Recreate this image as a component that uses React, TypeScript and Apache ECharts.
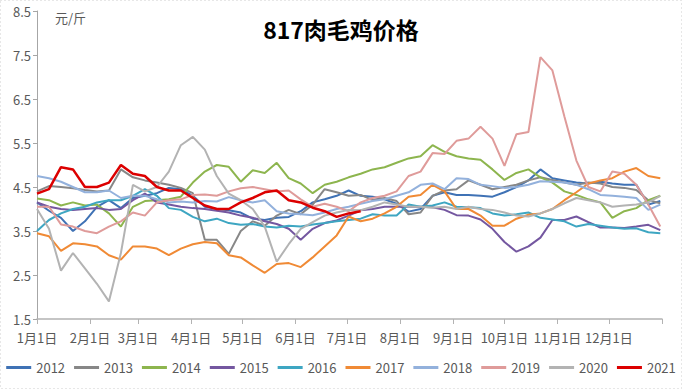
import React, { useEffect, useRef } from "react";
import * as echarts from "echarts";

// weekly sampling days (day of year)
const days = [0, 7, 14, 21, 28, 35, 42, 49, 56, 63, 70, 77, 84, 91, 98, 105, 112, 119, 126, 133, 140, 147, 154, 161, 168, 175, 182, 189, 196, 203, 210, 217, 224, 231, 238, 245, 252, 259, 266, 273, 280, 287, 294, 301, 308, 315, 322, 329, 336, 343, 350, 357, 364];

const monthTicks = [0, 31, 59, 90, 120, 151, 181, 212, 243, 273, 304, 334, 365];
const monthLabels = ["1月1日", "2月1日", "3月1日", "4月1日", "5月1日", "6月1日", "7月1日", "8月1日", "9月1日", "10月1日", "11月1日", "12月1日"];
const yTicks = [1.5, 2.5, 3.5, 4.5, 5.5, 6.5, 7.5, 8.5];

const years = ["2012", "2013", "2014", "2015", "2016", "2017", "2018", "2019", "2020", "2021"];
const colors = ["#3f72b5", "#878787", "#8db54e", "#7457a0", "#3ea6c2", "#f08a35", "#93b1dc", "#df9b9a", "#b3b3b3", "#dc0000"];

const s2012 = [4.15, 3.96, 3.8, 3.5, 3.72, 4.05, 4.2, 4.02, 4.25, 4.3, 4.36, 4.48, 4.45, 4.3, 4.05, 4.0, 3.97, 3.92, 3.78, 3.75, 3.8, 3.82, 3.95, 4.15, 4.22, 4.3, 4.42, 4.3, 4.28, 4.22, 4.12, 3.94, 4.0, 4.3, 4.38, 4.32, 4.32, 4.3, 4.28, 4.38, 4.5, 4.65, 4.9, 4.7, 4.65, 4.6, 4.58, 4.62, 4.58, 4.55, 4.55, 4.1, 4.18];
const s2013 = [4.4, 4.52, 4.5, 4.47, 4.43, 4.4, 4.42, 4.9, 4.72, 4.65, 4.6, 4.55, 4.48, 4.36, 3.3, 3.3, 2.98, 3.5, 3.72, 3.62, 3.85, 3.98, 3.88, 4.1, 4.45, 4.38, 4.3, 4.32, 4.2, 4.25, 4.18, 3.88, 3.92, 4.3, 4.42, 4.45, 4.65, 4.55, 4.45, 4.5, 4.55, 4.65, 4.72, 4.66, 4.6, 4.55, 4.6, 4.58, 4.5, 4.48, 4.43, 4.2, 4.13];
const s2014 = [4.24, 4.2, 4.08, 4.15, 4.08, 4.1, 3.9, 3.6, 4.05, 4.18, 4.2, 4.22, 4.28, 4.6, 4.85, 5.0, 4.96, 4.62, 4.88, 4.82, 5.05, 4.7, 4.58, 4.36, 4.55, 4.62, 4.72, 4.8, 4.9, 4.95, 5.05, 5.15, 5.2, 5.45, 5.3, 5.2, 5.15, 5.12, 4.9, 4.66, 4.82, 4.9, 4.72, 4.6, 4.4, 4.32, 4.22, 4.15, 3.8, 3.95, 4.02, 4.2, 4.3];
const s2015 = [4.15, 4.05, 4.0, 3.98, 4.0, 4.02, 3.98, 4.0, 4.2, 4.35, 4.15, 4.1, 4.05, 4.02, 4.0, 3.96, 3.92, 3.85, 3.8, 3.72, 3.66, 3.55, 3.3, 3.55, 3.68, 3.74, 3.85, 3.97, 4.0, 4.05, 4.05, 4.05, 4.05, 4.04, 3.98, 3.86, 3.85, 3.76, 3.55, 3.25, 3.03, 3.15, 3.35, 3.75, 3.75, 3.83, 3.7, 3.58, 3.58, 3.57, 3.6, 3.64, 3.52];
const s2016 = [3.5, 3.75, 3.9, 4.0, 4.05, 4.15, 4.2, 4.2, 4.3, 4.45, 4.3, 4.02, 3.98, 3.82, 3.72, 3.78, 3.68, 3.64, 3.66, 3.6, 3.58, 3.62, 3.6, 3.65, 3.68, 3.72, 3.75, 3.78, 3.88, 3.85, 3.85, 4.1, 4.05, 4.08, 4.15, 4.05, 4.04, 4.02, 3.9, 3.85, 3.88, 3.92, 3.8, 3.76, 3.72, 3.6, 3.66, 3.62, 3.58, 3.55, 3.56, 3.47, 3.45];
const s2017 = [3.45, 3.38, 3.05, 3.22, 3.2, 3.15, 2.95, 2.85, 3.15, 3.15, 3.1, 2.95, 3.1, 3.2, 3.25, 3.22, 2.95, 2.9, 2.72, 2.55, 2.75, 2.77, 2.68, 2.9, 3.15, 3.4, 3.83, 3.72, 3.78, 3.9, 4.05, 4.28, 4.32, 4.55, 4.4, 4.0, 4.0, 3.85, 3.62, 3.62, 3.78, 3.87, 3.9, 4.0, 4.2, 4.38, 4.58, 4.65, 4.7, 4.85, 4.93, 4.75, 4.7];
const s2018 = [4.75, 4.7, 4.62, 4.5, 4.38, 4.38, 4.42, 4.25, 4.3, 4.3, 4.22, 4.15, 4.17, 4.15, 4.18, 4.17, 4.27, 4.2, 4.15, 4.2, 3.95, 3.9, 3.88, 3.86, 3.92, 4.0, 4.05, 4.12, 4.18, 4.22, 4.3, 4.38, 4.55, 4.58, 4.45, 4.7, 4.68, 4.55, 4.52, 4.48, 4.5, 4.55, 4.63, 4.62, 4.6, 4.55, 4.45, 4.32, 4.3, 4.28, 4.25, 3.98, 4.1];
const s2019 = [4.05, 4.05, 3.65, 3.6, 3.5, 3.45, 3.6, 3.72, 3.92, 3.85, 4.15, 4.2, 4.22, 4.32, 4.33, 4.3, 4.4, 4.47, 4.5, 4.45, 4.4, 4.42, 4.22, 4.05, 4.12, 4.05, 3.95, 4.15, 4.25, 4.3, 4.4, 4.75, 4.85, 5.27, 5.25, 5.55, 5.6, 5.87, 5.6, 4.98, 5.7, 5.75, 7.45, 7.15, 6.1, 5.1, 4.5, 4.4, 4.85, 4.8, 4.55, 4.1, 3.6];
const s2020 = [4.0, 3.55, 2.6, 3.0, 2.65, 2.3, 1.9, 3.0, 4.55, 4.4, 4.5, 4.85, 5.45, 5.64, 5.35, 4.75, 4.35, 4.2, 4.0, 3.6, 2.8, 3.2, 3.55, 3.7, 3.85, 3.92, 3.98, 3.97, 4.05, 4.15, 4.1, 4.05, 4.05, 4.03, 4.05, 4.0, 4.05, 4.0, 3.98, 3.92, 3.85, 3.83, 3.9, 4.0, 4.13, 4.25, 4.2, 4.15, 4.05, 4.08, 4.1, 4.15, 4.3];
const s2021 = [4.35, 4.45, 4.95, 4.9, 4.5, 4.5, 4.6, 5.0, 4.8, 4.75, 4.5, 4.42, 4.42, 4.25, 4.08, 4.0, 4.0, 4.15, 4.25, 4.38, 4.42, 4.2, 4.15, 4.03, 3.95, 3.82, 3.9, 3.95];

const seriesValues = [s2012, s2013, s2014, s2015, s2016, s2017, s2018, s2019, s2020, s2021];

const FONT = "'Noto Sans CJK SC', 'Noto Sans', sans-serif";

export default function App() {
  const ref = useRef<HTMLDivElement>(null);
  useEffect(() => {
    document.body.style.margin = "0";
    if (!ref.current) return;
    const chart = echarts.init(ref.current, undefined, { renderer: "svg" });
    const series = years.map((y, i) => ({
      name: y,
      type: "line",
      showSymbol: false,
      symbol: "none",
      data: seriesValues[i].map((v, k) => [days[k], v]),
      lineStyle: { width: i === 9 ? 2.5 : 2, color: colors[i] },
      itemStyle: { color: colors[i] },
      z: 2 + i,
    }));
    chart.setOption({
      animation: false,
      backgroundColor: "#ffffff",
      textStyle: { fontFamily: FONT },
      title: {
        text: "817肉毛鸡价格",
        left: "center",
        top: 12,
        textStyle: { fontSize: 23, fontWeight: "bold", color: "#000", fontFamily: FONT },
      },
      graphic: [
        {
          type: "text",
          left: 55,
          top: 11,
          style: { text: "元/斤", fontSize: 13, fill: "#595959", fontFamily: FONT },
        },
        {
          type: "rect",
          shape: { x: 0.5, y: 0.5, width: 681, height: 388 },
          style: { fill: "none", stroke: "#cfcfcf", lineWidth: 1, lineDash: [1, 3] },
          silent: true,
          z: -1,
        },
      ],
      legend: {
        bottom: 10,
        left: "center",
        data: years,
        icon: "rect",
        itemWidth: 25,
        itemHeight: 3,
        itemGap: 9,
        textStyle: { fontSize: 13, color: "#595959", fontFamily: FONT },
      },
      grid: { left: 37, right: 20, top: 11, bottom: 70, containLabel: false },
      xAxis: {
        type: "value",
        min: 0,
        max: 365,
        axisLine: { show: true, lineStyle: { color: "#b3b3b3", width: 1.5 } },
        axisTick: { show: true, length: 5, customValues: monthTicks, lineStyle: { color: "#b3b3b3" } },
        axisLabel: {
          customValues: monthTicks.slice(0, 12),
          formatter: (v: number) => {
            const idx = monthTicks.indexOf(v);
            return idx >= 0 && idx < 12 ? monthLabels[idx] : "";
          },
          fontSize: 13,
          color: "#595959",
          margin: 12,
          fontFamily: FONT,
        },
        splitLine: { show: false },
      },
      yAxis: {
        type: "value",
        min: 1.5,
        max: 8.5,
        axisLine: { show: true, lineStyle: { color: "#a6a6a6", width: 1 } },
        axisTick: { show: true, length: 4, customValues: yTicks, lineStyle: { color: "#a6a6a6" } },
        axisLabel: {
          customValues: yTicks,
          formatter: (v: number) => v.toFixed(1),
          fontSize: 13,
          color: "#595959",
          margin: 6,
          fontFamily: FONT,
        },
        splitLine: { show: false },
      },
      series,
    });
    return () => chart.dispose();
  }, []);
  return <div ref={ref} style={{ width: 682, height: 389 }} />;
}
